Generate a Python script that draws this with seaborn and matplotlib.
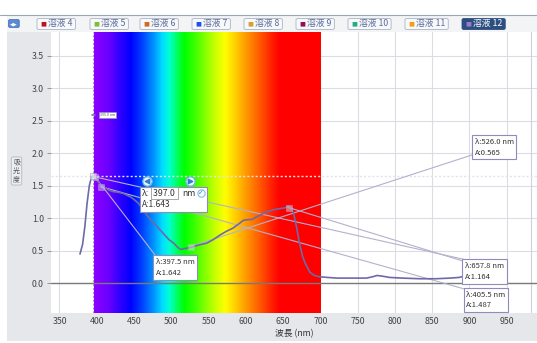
import numpy as np
import pandas as pd
import matplotlib
matplotlib.use('Agg')
import matplotlib.pyplot as plt
import seaborn as sns
from matplotlib.colors import LinearSegmentedColormap
from matplotlib.patches import Rectangle, FancyBboxPatch

# Datos: espectro de absorción (溶液 12)
wavelength = [377.5, 381, 384, 387, 390, 393, 396, 399, 404, 409, 415, 422, 429, 436,
              445, 450, 456, 462, 467, 478, 489, 497, 503, 508, 512, 516, 521, 528,
              534, 541, 548, 556, 565, 574, 583, 590, 597, 604, 608, 614, 621, 628,
              637, 646, 652, 657, 661, 664, 668, 672, 676, 680, 686, 692, 699, 710,
              722, 740, 762, 770, 776, 783, 793, 810, 834, 855, 874, 886, 893, 900]
absorbance = [0.45, 0.60, 0.87, 1.23, 1.50, 1.64, 1.65, 1.60, 1.53, 1.49, 1.44, 1.41, 1.40, 1.38,
              1.33, 1.29, 1.23, 1.14, 1.05, 0.91, 0.77, 0.67, 0.62, 0.56, 0.52, 0.53, 0.54, 0.56,
              0.58, 0.60, 0.62, 0.67, 0.74, 0.80, 0.85, 0.91, 0.97, 0.98, 0.98, 1.02, 1.06, 1.10,
              1.13, 1.15, 1.16, 1.18, 1.15, 1.08, 0.87, 0.62, 0.42, 0.30, 0.17, 0.12, 0.10, 0.09,
              0.08, 0.08, 0.08, 0.10, 0.12, 0.11, 0.09, 0.08, 0.07, 0.07, 0.08, 0.09, 0.11, 0.12]

# Franja del espectro visible
spectrum_nm = [396, 415, 430, 445, 460, 475, 488, 497, 507, 517, 532, 547, 560, 572,
               585, 600, 615, 630, 645, 700]
spectrum_colors = ['#8a00ff', '#6a00ff', '#3000ff', '#0000ff', '#0040ff', '#0090ff', '#00e0ff',
                   '#00ffd0', '#00ff60', '#00ff00', '#40ff00', '#90ff00', '#d0ff00', '#ffff00',
                   '#ffd000', '#ff9900', '#ff6600', '#ff3000', '#ff0000', '#ff0000']

legend_names = ['溶液 4', '溶液 5', '溶液 6', '溶液 7', '溶液 8', '溶液 9', '溶液 10', '溶液 11', '溶液 12']
legend_colors = ['#c01020', '#7cc030', '#d06a20', '#2050f0', '#d8a030', '#901050', '#20b080',
                 '#f0a010', '#9a7ad0']

x_ticks = [350, 400, 450, 500, 550, 600, 650, 700, 750, 800, 850, 900, 950]
y_ticks = [0.0, 0.5, 1.0, 1.5, 2.0, 2.5, 3.0, 3.5]

# Lecturas del cursor (λ, A)
readout_nm = [526.0, 657.8, 405.5, 397.5]
readout_a = [0.565, 1.164, 1.487, 1.642]
cursor_nm = 395.0
cursor_a = 1.643

sns.set_style('white')
plt.rcParams['font.family'] = ['Noto Sans CJK JP', 'DejaVu Sans']

fig = plt.figure(figsize=(5.37, 3.43), dpi=100, facecolor='white')
W, H = 537.0, 343.0

# Panel gris de fondo y barra superior
fig.patches.append(Rectangle((7 / W, 2 / H), 530 / W, 326 / H, transform=fig.transFigure,
                             facecolor='#e6e7ea', edgecolor='none', zorder=-10))
fig.patches.append(Rectangle((7 / W, 1 - 32 / H), 530 / W, 17 / H, transform=fig.transFigure,
                             facecolor='#f3f4f6', edgecolor='none', zorder=-9))
fig.lines.append(plt.Line2D([0, 1], [1 - 15 / H, 1 - 15 / H], transform=fig.transFigure,
                            color='#9aa6b8', lw=0.8))

ax = fig.add_axes([50.7 / W, 1 - 313 / H, 486.3 / W, 281 / H])
ax.set_zorder(1)
ax.set_facecolor('white')
xlim = (338.2, 990.7)
ylim = (-0.457, 3.866)

# Espectro
pos = [(v - spectrum_nm[0]) / (spectrum_nm[-1] - spectrum_nm[0]) for v in spectrum_nm]
cmap = LinearSegmentedColormap.from_list('vis', list(zip(pos, spectrum_colors)))
grad = np.linspace(0, 1, 600)[None, :]
ax.imshow(grad, extent=[spectrum_nm[0], spectrum_nm[-1], ylim[0], ylim[1]], aspect='auto',
          cmap=cmap, zorder=2)

ax.set_xticks(x_ticks)
ax.set_yticks(y_ticks)
ax.set_yticklabels([f'{v:.1f}' for v in y_ticks])
ax.grid(True, color='#dcdce4', lw=0.8, zorder=1)
ax.set_axisbelow(True)
for s in ax.spines.values():
    s.set_visible(False)
ax.axvline(982, color='#cfd0da', lw=0.8, zorder=1)
ax.axhline(0, color='#7a7a7a', lw=1.0, zorder=3)

# Cursor
ax.axvline(cursor_nm, color='#a09cbc', ls=(0, (2, 1.5)), lw=0.8, zorder=6)
ax.axhline(cursor_a, color='#e2e2ea', ls=(0, (1.5, 1.5)), lw=1.0, zorder=3)
ax.plot([cursor_nm - 2, cursor_nm + 2], [2.59, 2.59], color='#7a75b0', lw=1.2, zorder=7)
ax.text(cursor_nm + 9, 2.59, '395.0 nm', fontsize=2.6, va='center', color='#555',
        bbox=dict(boxstyle='square,pad=0.3', fc='white', ec='#8f8bbf', lw=0.5), zorder=8)

# Líneas de conexión a las etiquetas
line_kw = dict(color='#b4b1cc', lw=0.8, zorder=4)
ax.plot([readout_nm[0], 905], [readout_a[0], 1.98], **line_kw)
ax.plot([readout_nm[1], 892], [readout_a[1], 0.34], **line_kw)
ax.plot([readout_nm[2], 894], [readout_a[2], -0.09], **line_kw)
ax.plot([readout_nm[3], 480], [readout_a[3], 0.41], **line_kw)
ax.plot([cursor_nm, 892], [cursor_a, 0.37], **line_kw)

df = pd.DataFrame({'nm': wavelength, 'A': absorbance})
sns.lineplot(data=df, x='nm', y='A', ax=ax, color='#6e69a8', lw=1.2, zorder=5)

ax.scatter(readout_nm, readout_a, marker='s', s=20, facecolor='#e4e2ee', edgecolor='#b8b5cf',
           lw=0.6, alpha=0.45, zorder=6)
ax.scatter([cursor_nm], [cursor_a], marker='s', s=20, facecolor='#e4e2ee', edgecolor='#a8a5c4',
           lw=0.6, alpha=0.7, zorder=6)

# Cajas de lectura
box_kw = dict(boxstyle='square,pad=0.35', fc='white', ec='#8f8bbf', lw=0.8)
box_pos = [(907, 2.24), (894, 0.33), (896, -0.11), (479, 0.39)]
for (bx, by), lam, a in zip(box_pos, readout_nm, readout_a):
    ax.text(bx, by, f'λ:{lam:.1f} nm\nA:{a:.3f}', fontsize=5.5, color='#333', va='top',
            ha='left', linespacing=1.5, bbox=box_kw, zorder=9)

# Caja de entrada del cursor
ax.add_patch(Rectangle((458, 1.09), 89.5, 0.39, facecolor='white', edgecolor='#8f8bbf',
                       lw=0.8, zorder=8))
ax.text(460, 1.385, 'λ:', fontsize=6.3, color='#333', va='center', zorder=9)
ax.text(475, 1.385, '397.0 ', fontsize=6.3, color='#333', va='center', zorder=9,
        bbox=dict(boxstyle='square,pad=0.15', fc='white', ec='#999', lw=0.6))
ax.text(515, 1.385, 'nm', fontsize=6.3, color='#333', va='center', zorder=9)
ax.scatter([540], [1.385], s=28, facecolor='white', edgecolor='#7cc0e6', lw=0.8, zorder=9)
ax.text(540, 1.385, '✓', fontsize=5, color='#2f86cc', va='center', ha='center', zorder=10,
        family='DejaVu Sans')
ax.text(460, 1.21, 'A:1.643', fontsize=6.0, color='#333', va='center', zorder=9)

ax.scatter([467, 525], [1.58, 1.58], s=45, facecolor='#eaf6fc', edgecolor='#6bb6e0', lw=0.9,
           zorder=9)
ax.scatter([467], [1.58], s=10, marker='<', color='#2f7fd0', zorder=10)
ax.scatter([525], [1.58], s=10, marker='>', color='#2f7fd0', zorder=10)

ax.set_xlim(*xlim)
ax.set_ylim(*ylim)
ax.tick_params(axis='both', labelsize=6.3, labelcolor='#444', color='#888', pad=2)
ax.tick_params(axis='y', length=3, width=0.6, left=True)
ax.tick_params(axis='x', length=0, pad=3)
ax.set_xlabel('波長 (nm)', fontsize=6.3, color='#333', labelpad=2)
ax.set_ylabel('')

# Etiqueta del eje Y en vertical
fig.text(16.5 / W, 1 - 171 / H, '吸\n光\n度', fontsize=5, color='#555', ha='center', va='center',
         linespacing=1.05,
         bbox=dict(boxstyle='round,pad=0.25', fc='#eceef1', ec='#b5b8c0', lw=0.6))

# Barra de leyenda superior
yb = 1 - 23.5 / H
fig.text(10 / W, yb, '◀▶', fontsize=3.6, color='white', va='center', family='DejaVu Sans',
         bbox=dict(boxstyle='round,pad=0.3', fc='#5a8ad0', ec='#3a6ab0', lw=0.5))
renderer = fig.canvas.get_renderer()
button_x = [37, 90, 140, 192, 244, 296, 348, 405, 462]
for i, (name, col, bx) in enumerate(zip(legend_names, legend_colors, button_x)):
    selected = i == len(legend_names) - 1
    t = fig.text((bx + 11) / W, yb, name, fontsize=6.3, va='center', zorder=3,
                 color='white' if selected else '#5a6a9a')
    fig.text((bx + 3) / W, yb, '■', fontsize=4.5, color=col, va='center', zorder=3,
             family='DejaVu Sans')
    right = t.get_window_extent(renderer).x1 + 3
    fig.patches.append(FancyBboxPatch((bx / W, (H - 29.5) / H), (right - bx) / W, 11 / H,
                                      boxstyle='round,pad=0,rounding_size=0.004',
                                      transform=fig.transFigure, zorder=2,
                                      facecolor='#2d4f80' if selected else '#f7f8fa',
                                      edgecolor='#2d4f80' if selected else '#aab4c6', lw=0.6))

fig.savefig('out.png', dpi=100, facecolor=fig.get_facecolor())
